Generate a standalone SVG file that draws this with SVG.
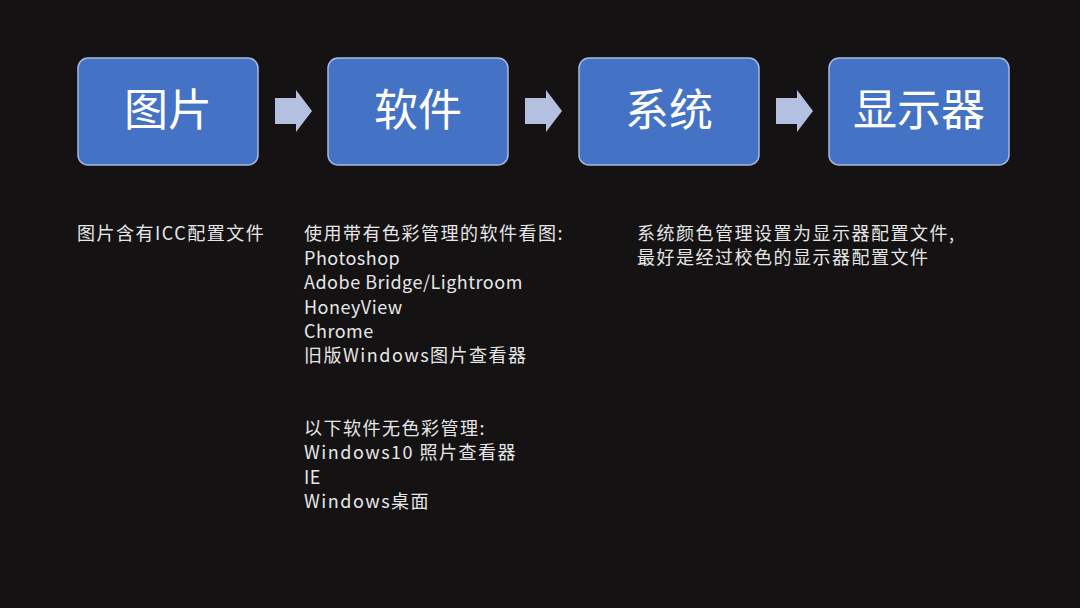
<svg xmlns="http://www.w3.org/2000/svg" width="1080" height="608" viewBox="0 0 1080 608">
<style>
.box{fill:#4472c4;stroke:#a9b8dc;stroke-width:1.5}
.bt{font-family:"Noto Sans CJK SC","Noto Sans",sans-serif;font-size:44px;fill:#fff;text-anchor:middle}
.arr{fill:#b4c0e0}
.t{font-family:"Noto Sans CJK SC","Noto Sans",sans-serif;font-size:18px;fill:#e6e6e6;letter-spacing:0.5px}
.c{letter-spacing:1.5px}
</style>
<rect width="1080" height="608" fill="#141213"/>
<g id="connectors">
<polygon class="arr" points="275,98 296,98 296,90 312,111 296,132 296,124 275,124"/>
<polygon class="arr" points="525,98 546,98 546,90 562,111 546,132 546,124 525,124"/>
<polygon class="arr" points="776,98 797,98 797,90 813,111 797,132 797,124 776,124"/>
</g>
<g id="n1"><rect class="box" x="78" y="58" width="180" height="107" rx="10"/><text class="bt" x="168" y="126">图片</text></g>
<g id="n2"><rect class="box" x="328" y="58" width="180" height="107" rx="10"/><text class="bt" x="418" y="126">软件</text></g>
<g id="n3"><rect class="box" x="579" y="58" width="180" height="107" rx="10"/><text class="bt" x="669" y="126">系统</text></g>
<g id="n4"><rect class="box" x="829" y="58" width="180" height="107" rx="10"/><text class="bt" x="919" y="126">显示器</text></g>
<g id="texts">
<text class="t c" x="77" y="240">图片含有ICC配置文件</text>
<text class="t c" x="304" y="240">使用带有色彩管理的软件看图:</text>
<text class="t" x="304" y="265">Photoshop</text>
<text class="t" x="304" y="289">Adobe Bridge/Lightroom</text>
<text class="t" x="304" y="314">HoneyView</text>
<text class="t" x="304" y="338">Chrome</text>
<text class="t c" x="304" y="362">旧版Windows图片查看器</text>
<text class="t c" x="304" y="435">以下软件无色彩管理:</text>
<text class="t c" x="304" y="459">Windows10 照片查看器</text>
<text class="t" x="304" y="484">IE</text>
<text class="t c" x="304" y="508">Windows桌面</text>
<text class="t c" x="637" y="240">系统颜色管理设置为显示器配置文件,</text>
<text class="t c" x="637" y="264">最好是经过校色的显示器配置文件</text>
</g>
</svg>
